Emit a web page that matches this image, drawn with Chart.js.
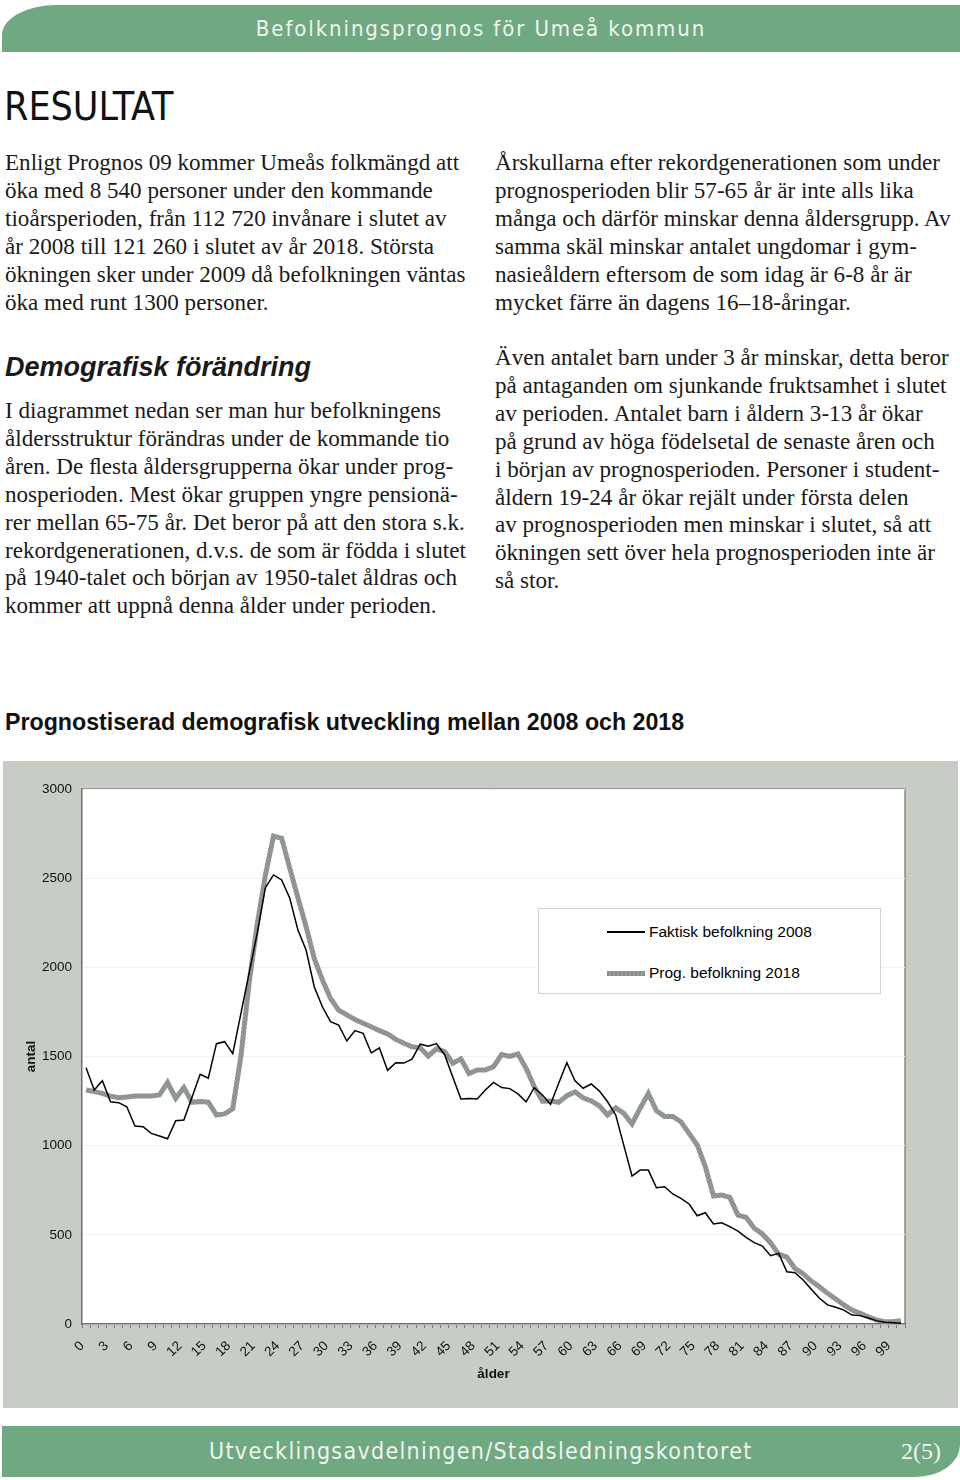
<!DOCTYPE html>
<html lang="sv">
<head>
<meta charset="utf-8">
<title>Befolkningsprognos för Umeå kommun</title>
<script src="https://cdn.jsdelivr.net/npm/chart.js@4.4.1/dist/chart.umd.min.js"></script>
<style>
  html, body { margin: 0; padding: 0; background: #fff; }
  body { width: 960px; height: 1480px; position: relative; overflow: hidden; }
  .band { position: absolute; background: #70a882; color: #eef4ef;
          font-family: "Liberation Sans Narrow", "DejaVu Sans Condensed", "Liberation Sans", sans-serif; }
  #head { left: 2px; top: 5px; width: 958px; height: 47px; border-top-left-radius: 55px 30px;
          font-size: 22px; line-height: 47px; text-align: center; letter-spacing: 1.9px; padding-left: 0; }
  #foot { left: 2px; top: 1426px; width: 958px; height: 51px; border-bottom-right-radius: 45px 32px; }
  #foot .org { position: absolute; left: 207px; top: 0; font-size: 23px; line-height: 51px; letter-spacing: 1.3px; }
  #foot .pg { position: absolute; left: 899px; top: 0; font-size: 24px; line-height: 51px;
              font-family: "Liberation Serif", serif; }
  h1 { position: absolute; left: 4px; top: 84px; margin: 0; font-weight: normal;
       font-family: "Liberation Sans Narrow", "DejaVu Sans Condensed", sans-serif; font-size: 39px; color: #111; }
  h2 { position: absolute; left: 5px; top: 352px; margin: 0; font-family: "Liberation Sans", Arial, sans-serif;
       font-style: italic; font-weight: bold; font-size: 27px; color: #1a1a1a; }
  .txt { position: absolute; font-family: "Liberation Serif", "Times New Roman", serif; font-size: 23.1px;
         line-height: 27.9px; color: #1a1a1a; white-space: nowrap; }
  #ctitle { position: absolute; left: 5px; top: 709px; font-family: "Liberation Sans", Arial, sans-serif;
            font-weight: bold; font-size: 23.2px; color: #111; }
  #chartBox { position: absolute; left: 3px; top: 761px; width: 955px; height: 647px; background: #c7cdc4; }
  #legend { position: absolute; left: 538px; top: 908px; width: 341px; height: 84px; background: #fff;
            border: 1px solid #d2d2d2; font-family: "Liberation Sans", Arial, sans-serif; font-size: 15.5px; color: #000; }
  #legend .row { position: absolute; left: 0; height: 20px; line-height: 20px; white-space: nowrap; }
  #legend .swatch { position: absolute; left: 68px; width: 38px; }
  #legend .lbl { position: absolute; left: 110px; top: 0; }
</style>
</head>
<body>
<div id="head" class="band">Befolkningsprognos för Umeå kommun</div>

<h1>RESULTAT</h1>

<div class="txt" style="left:5px; top:149px;">Enligt Prognos 09 kommer Umeås folkmängd att<br>öka med 8 540 personer under den kommande<br>tioårsperioden, från 112 720 invånare i slutet av<br>år 2008 till 121 260 i slutet av år 2018. Största<br>ökningen sker under 2009 då befolkningen väntas<br>öka med runt 1300 personer.</div>

<h2>Demografisk förändring</h2>

<div class="txt" style="left:5px; top:397px;">I diagrammet nedan ser man hur befolkningens<br>åldersstruktur förändras under de kommande tio<br>åren. De ﬂesta åldersgrupperna ökar under prog-<br>nosperioden. Mest ökar gruppen yngre pensionä-<br>rer mellan 65-75 år. Det beror på att den stora s.k.<br>rekordgenerationen, d.v.s. de som är födda i slutet<br>på 1940-talet och början av 1950-talet åldras och<br>kommer att uppnå denna ålder under perioden.</div>

<div class="txt" style="left:495px; top:149px;">Årskullarna efter rekordgenerationen som under<br>prognosperioden blir 57-65 år är inte alls lika<br>många och därför minskar denna åldersgrupp. Av<br>samma skäl minskar antalet ungdomar i gym-<br>nasieåldern eftersom de som idag är 6-8 år är<br>mycket färre än dagens 16–18-åringar.</div>

<div class="txt" style="left:495px; top:344px;">Även antalet barn under 3 år minskar, detta beror<br>på antaganden om sjunkande fruktsamhet i slutet<br>av perioden. Antalet barn i åldern 3-13 år ökar<br>på grund av höga födelsetal de senaste åren och<br>i början av prognosperioden. Personer i student-<br>åldern 19-24 år ökar rejält under första delen<br>av prognosperioden men minskar i slutet, så att<br>ökningen sett över hela prognosperioden inte är<br>så stor.</div>

<div id="ctitle">Prognostiserad demografisk utveckling mellan 2008 och 2018</div>

<div id="chartBox"><canvas id="popChart"></canvas></div>
<div id="legend"></div>

<div id="foot" class="band"><span class="org">Utvecklingsavdelningen/Stadsledningskontoret</span><span class="pg">2(5)</span></div>

<script>
// ålder 0-100
const ages = ["0","1","2","3","4","5","6","7","8","9","10","11","12","13","14","15","16","17","18","19",
  "20","21","22","23","24","25","26","27","28","29","30","31","32","33","34","35","36","37","38","39",
  "40","41","42","43","44","45","46","47","48","49","50","51","52","53","54","55","56","57","58","59",
  "60","61","62","63","64","65","66","67","68","69","70","71","72","73","74","75","76","77","78","79",
  "80","81","82","83","84","85","86","87","88","89","90","91","92","93","94","95","96","97","98","99","100"];

const shownAgeTicks = ["0","3","6","9","12","15","18","21","24","27","30","33","36","39","42","45","48",
  "51","54","57","60","63","66","69","72","75","78","81","84","87","90","93","96","99"];

const faktisk2008 = [1437,1312,1364,1246,1241,1218,1110,1106,1069,1054,
  1039,1140,1144,1272,1400,1378,1572,1583,1516,1740,
  1966,2190,2446,2518,2490,2387,2209,2097,1891,1779,
  1695,1676,1587,1645,1630,1520,1548,1422,1465,1463,
  1485,1569,1557,1572,1510,1385,1262,1265,1262,1312,
  1355,1326,1320,1290,1246,1325,1284,1232,1350,1465,
  1364,1322,1346,1306,1246,1172,1000,830,863,863,
  764,770,729,705,673,607,624,561,568,546,
  521,486,456,437,383,396,293,288,247,195,
  144,107,94,78,50,47,34,19,10,7,4];

const prog2018 = [1312,1303,1293,1278,1269,1273,1278,1278,1278,1284,
  1354,1265,1326,1243,1248,1244,1172,1178,1207,1500,
  1910,2240,2515,2736,2724,2555,2390,2228,2050,1930,
  1825,1760,1733,1708,1686,1667,1645,1626,1596,1574,
  1555,1549,1503,1543,1527,1462,1487,1404,1424,1424,
  1443,1511,1501,1514,1434,1331,1249,1251,1243,1280,
  1301,1268,1251,1223,1172,1212,1181,1122,1210,1292,
  1195,1164,1164,1134,1069,1004,882,718,723,710,
  611,598,537,505,455,392,375,310,282,241,
  209,172,140,107,78,60,41,22,13,13,19];

const seriesNames = ["Faktisk befolkning 2008", "Prog. befolkning 2018"];
const seriesColors = ["#000000", "#989f98"];
const seriesWidths = [1.5, 5];

// the thick grey line has a small dotted texture in the original
function greyPattern() {
  const c = document.createElement('canvas');
  c.width = 4; c.height = 4;
  const g = c.getContext('2d');
  g.fillStyle = seriesColors[1];
  g.fillRect(0, 0, 4, 4);
  g.fillStyle = '#868d86';
  g.fillRect(0, 0, 2, 2);
  g.fillRect(2, 2, 2, 2);
  return g.createPattern(c, 'repeat');
}

const plotFrame = {
  id: 'plotFrame',
  beforeDraw(chart) {
    const { ctx, chartArea: a } = chart;
    ctx.save();
    ctx.fillStyle = '#ffffff';
    ctx.fillRect(a.left, a.top, a.right - a.left, a.bottom - a.top);
    ctx.strokeStyle = '#8a8a8a';
    ctx.lineWidth = 1.5;
    ctx.beginPath();
    ctx.moveTo(a.left, a.top);
    ctx.lineTo(a.right, a.top);
    ctx.lineTo(a.right, a.bottom);
    ctx.stroke();
    ctx.restore();
  }
};

const baseFont = { family: '"Liberation Sans", Arial, sans-serif', size: 13.5 };

const chart = new Chart(document.getElementById('popChart'), {
  type: 'line',
  data: {
    labels: ages,
    datasets: [
      { label: seriesNames[0], data: faktisk2008, borderColor: seriesColors[0], borderWidth: seriesWidths[0],
        pointRadius: 0, tension: 0, fill: false },
      { label: seriesNames[1], data: prog2018, borderColor: greyPattern(), borderWidth: seriesWidths[1],
        pointRadius: 0, tension: 0, fill: false, borderJoinStyle: 'miter' }
    ]
  },
  options: {
    responsive: true,
    maintainAspectRatio: false,
    animation: false,
    layout: { padding: { left: 0, top: 28, right: 53, bottom: 0 } },
    plugins: {
      legend: { display: false },
      tooltip: { enabled: false }
    },
    scales: {
      x: {
        offset: true,
        grid: { offset: true, drawOnChartArea: false, drawTicks: true, tickLength: 4, color: '#7a7a7a' },
        border: { color: '#6f6f6f', width: 1.5 },
        ticks: {
          autoSkip: false, maxRotation: 45, minRotation: 45, padding: 10, labelOffset: -4,
          color: '#111', font: baseFont,
          callback: (v, i) => shownAgeTicks.includes(ages[i]) ? ages[i] : ''
        },
        title: { display: true, text: 'ålder', color: '#111', font: { ...baseFont, weight: 'bold' },
                 padding: { top: 0, bottom: 26 } },
        afterFit: s => { s.height = 84; }
      },
      y: {
        min: 0, max: 3000,
        grid: { drawTicks: false, color: '#f1f1ef', lineWidth: 1 },
        border: { color: '#6f6f6f', width: 1.5 },
        ticks: { stepSize: 500, padding: 10, color: '#111', font: baseFont, callback: v => String(v) },
        title: { display: true, text: 'antal', color: '#111', font: { ...baseFont, weight: 'bold' },
                 padding: { top: 20, bottom: 0 } },
        afterFit: s => { s.width = 79; }
      }
    }
  },
  plugins: [plotFrame]
});

// legend inside the plot, built from the series
const legendEl = document.getElementById('legend');
seriesNames.forEach((name, i) => {
  const row = document.createElement('div');
  row.className = 'row';
  row.style.top = (i === 0 ? 13 : 54) + 'px';
  const sw = document.createElement('div');
  sw.className = 'swatch';
  sw.style.height = seriesWidths[i] + 'px';
  sw.style.top = (10 - seriesWidths[i] / 2) + 'px';
  sw.style.background = i === 1
    ? 'repeating-linear-gradient(90deg, #868d86 0 2px, ' + seriesColors[1] + ' 2px 4px)'
    : seriesColors[i];
  const lbl = document.createElement('span');
  lbl.className = 'lbl';
  lbl.textContent = name;
  row.appendChild(sw);
  row.appendChild(lbl);
  legendEl.appendChild(row);
});
</script>
</body>
</html>
